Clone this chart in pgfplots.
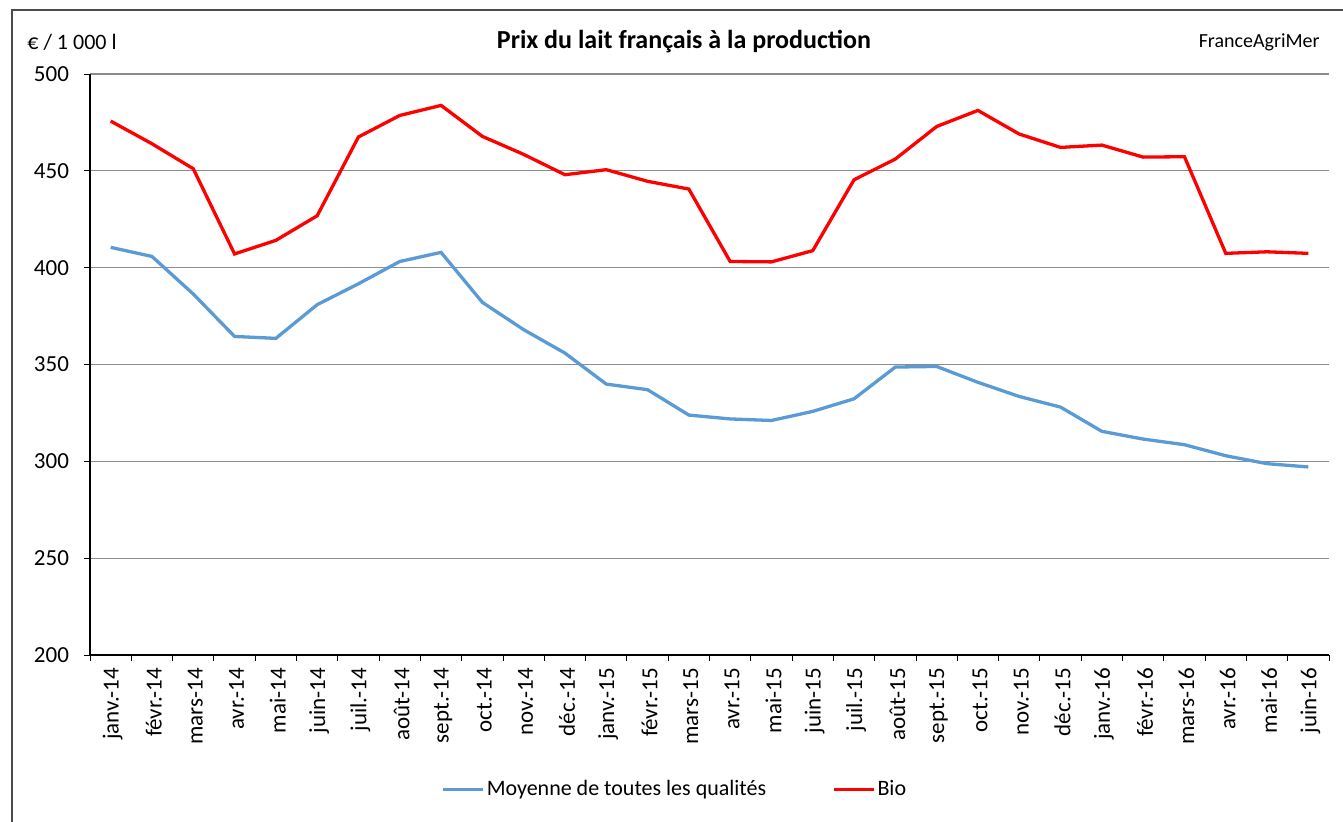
\documentclass[border=0pt]{standalone}
\usepackage{pgfplots}
\pgfplotsset{compat=1.18}
\usepackage{fontspec}
\setmainfont{Carlito}
\definecolor{bleu}{HTML}{5B9BD5}
\definecolor{rouge}{HTML}{FF0000}
\definecolor{grille}{HTML}{8C8C8C}
\newcommand{\fs}{\fontsize{11.5}{13.5}\selectfont}
\newcommand{\fl}{\fontsize{11}{13}\selectfont}
\begin{document}
\begin{tikzpicture}[x=0.5pt,y=-0.5pt]
\useasboundingbox (0,0) rectangle (1343,821);
\draw[line width=0.75pt, color=black!70] (12,830) -- (12,10) -- (1350,10);
\node[anchor=west, font=\fl, inner sep=0pt] at (27,42) {€ / 1 000 l};
\node[font=\fontsize{13}{15}\selectfont\bfseries, inner sep=0pt] at (684,42) {Prix du lait français à la production};
\node[anchor=east, font=\fontsize{10}{12}\selectfont, inner sep=0pt] at (1320,42) {FranceAgriMer};
\begin{axis}[
  at={(45pt,-327.5pt)}, anchor=south west,
  scale only axis, width=619.5pt, height=290.5pt,
  xmin=-0.5, xmax=29.5, ymin=200, ymax=500,
  axis x line=bottom, axis y line=left,
  axis line style={-, line width=0.75pt, black},
  tick align=outside,
  xtick={0,...,29},
  xticklabels={janv.-14,févr.-14,mars-14,avr.-14,mai-14,juin-14,juil.-14,août-14,sept.-14,oct.-14,nov.-14,déc.-14,janv.-15,févr.-15,mars-15,avr.-15,mai-15,juin-15,juil.-15,août-15,sept.-15,oct.-15,nov.-15,déc.-15,janv.-16,févr.-16,mars-16,avr.-16,mai-16,juin-16},
  major x tick style={draw=none},
  minor xtick={-0.5,0.5,...,29.5},
  minor tick length=3pt,
  minor x tick style={black, line width=0.5pt},
  ytick={200,250,...,500},
  major tick length=3pt,
  y tick style={black, line width=0.5pt},
  ymajorgrids,
  grid style={grille, line width=0.6pt},
  /pgf/number format/assume math mode=true,
  xticklabel style={rotate=90, anchor=east, font=\fs, yshift=-1pt},
  yticklabel style={font=\fs, xshift=-4pt},
  legend style={at={(0.472,-0.232)}, anchor=center, draw=none, fill=none,
    legend columns=2, font=\fl,
    /tikz/every even column/.append style={column sep=32pt},
    nodes={inner sep=1pt}},
  legend image code/.code={\draw[#1] (0pt,0pt) -- (20pt,0pt);},
]
\addplot[bleu, line width=1.65pt] coordinates {
(0,410.5) (1,405.8) (2,386.4) (3,364.5) (4,363.5) (5,380.9) (6,391.7) (7,403.2) (8,407.9) (9,382.1)
(10,368.0) (11,355.9) (12,339.9) (13,337.0) (14,323.9) (15,321.9) (16,321.1) (17,325.8) (18,332.3) (19,348.7)
(20,349.0) (21,340.8) (22,333.5) (23,328.0) (24,315.5) (25,311.5) (26,308.6) (27,302.9) (28,298.8) (29,297.1)
};
\addlegendentry{Moyenne de toutes les qualités}
\addplot[rouge, line width=1.65pt] coordinates {
(0,475.7) (1,464.0) (2,451.1) (3,407.1) (4,414.1) (5,426.8) (6,467.5) (7,478.6) (8,483.8) (9,467.8)
(10,458.5) (11,448.0) (12,450.6) (13,444.6) (14,440.6) (15,403.2) (16,403.0) (17,408.8) (18,445.4) (19,456.1)
(20,472.9) (21,481.2) (22,469.0) (23,462.1) (24,463.3) (25,457.1) (26,457.3) (27,407.4) (28,408.2) (29,407.4)
};
\addlegendentry{Bio}
\end{axis}
\end{tikzpicture}
\end{document}
